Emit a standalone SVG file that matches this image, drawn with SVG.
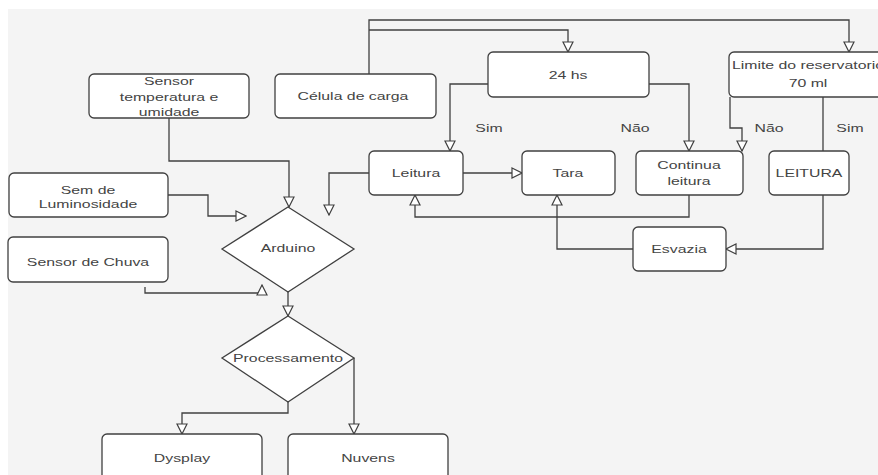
<svg xmlns="http://www.w3.org/2000/svg" width="878" height="475" viewBox="0 0 878 475">
<style>
.box{fill:#ffffff;stroke:#404040;stroke-width:1.3}
.ln{fill:none;stroke:#404040;stroke-width:1.3}
.t{font-family:"Liberation Sans",Arial,sans-serif;font-size:11px;fill:#444;text-anchor:middle}
</style>
<defs>
<marker id="ah" markerUnits="userSpaceOnUse" markerWidth="12" markerHeight="12" refX="10" refY="5" orient="auto" viewBox="-1 -1 12 12">
<path d="M0,0 L10,5 L0,10 Z" fill="#fff" stroke="#404040" stroke-width="1.2"/>
</marker>
</defs>
<rect x="0" y="0" width="878" height="475" fill="#ffffff"/>
<rect x="8" y="9" width="870" height="466" fill="#f4f4f4"/>

<g id="connectors">
<path class="ln" d="M169,118 V161 H289 V207" marker-end="url(#ah)"/>
<path class="ln" d="M168,195 H208 V216 H246" marker-end="url(#ah)"/>
<path class="ln" d="M145,287 V293 H262 V285" marker-end="url(#ah)"/>
<path class="ln" d="M288,292 V316" marker-end="url(#ah)"/>
<path class="ln" d="M288,402 V413 H182 V434" marker-end="url(#ah)"/>
<path class="ln" d="M354,358 V434" marker-end="url(#ah)"/>
<path class="ln" d="M369,74 V20 H849 V52" marker-end="url(#ah)"/>
<path class="ln" d="M369,30 H568 V52" marker-end="url(#ah)"/>
<path class="ln" d="M488,84 H450 V151" marker-end="url(#ah)"/>
<path class="ln" d="M649,84 H689 V151" marker-end="url(#ah)"/>
<path class="ln" d="M730,97 V128 H742 V151" marker-end="url(#ah)"/>
<path class="ln" d="M823,97 V151"/>
<path class="ln" d="M463,173 H522" marker-end="url(#ah)"/>
<path class="ln" d="M369,173 H329 V215" marker-end="url(#ah)"/>
<path class="ln" d="M689,195 V217 H415 V195" marker-end="url(#ah)"/>
<path class="ln" d="M633,249 H557 V195" marker-end="url(#ah)"/>
<path class="ln" d="M823,195 V249 H726" marker-end="url(#ah)"/>
<text class="t" transform="translate(489,132) scale(1.44,1)">Sim</text>
<text class="t" transform="translate(635,132) scale(1.44,1)">Não</text>
<text class="t" transform="translate(769,132) scale(1.44,1)">Não</text>
<text class="t" transform="translate(850,132) scale(1.44,1)">Sim</text>
</g>

<g id="sensor-temp">
<rect class="box" x="89" y="74" width="160" height="44" rx="5"/>
<text class="t" transform="translate(169,85) scale(1.44,1)">Sensor</text>
<text class="t" transform="translate(169,101) scale(1.44,1)">temperatura e</text>
<text class="t" transform="translate(169,116) scale(1.44,1)">umidade</text>
</g>
<g id="sem-luminosidade">
<rect class="box" x="9" y="173" width="159" height="44" rx="5"/>
<text class="t" transform="translate(88,194) scale(1.44,1)">Sem de</text>
<text class="t" transform="translate(88,208) scale(1.44,1)">Luminosidade</text>
</g>
<g id="sensor-chuva">
<rect class="box" x="8" y="237" width="160" height="45" rx="5"/>
<text class="t" transform="translate(88,266) scale(1.44,1)">Sensor de Chuva</text>
</g>
<g id="celula-carga">
<rect class="box" x="275" y="74" width="161" height="44" rx="5"/>
<text class="t" transform="translate(353,100) scale(1.44,1)">Célula de carga</text>
</g>
<g id="h24">
<rect class="box" x="488" y="52" width="161" height="45" rx="5"/>
<text class="t" transform="translate(568,79) scale(1.44,1)">24 hs</text>
</g>
<g id="limite">
<rect class="box" x="729" y="52" width="160" height="45" rx="5"/>
<text class="t" transform="translate(808,69) scale(1.44,1)">Limite do reservatorio</text>
<text class="t" transform="translate(808,87) scale(1.44,1)">70 ml</text>
</g>
<g id="leitura">
<rect class="box" x="369" y="151" width="94" height="44" rx="5"/>
<text class="t" transform="translate(416,177) scale(1.44,1)">Leitura</text>
</g>
<g id="tara">
<rect class="box" x="522" y="151" width="93" height="44" rx="5"/>
<text class="t" transform="translate(568,177) scale(1.44,1)">Tara</text>
</g>
<g id="continua-leitura">
<rect class="box" x="636" y="151" width="107" height="44" rx="5"/>
<text class="t" transform="translate(689,169) scale(1.44,1)">Continua</text>
<text class="t" transform="translate(689,185) scale(1.44,1)">leitura</text>
</g>
<g id="leitura2">
<rect class="box" x="769" y="151" width="80" height="44" rx="5"/>
<text class="t" transform="translate(809,177) scale(1.44,1)">LEITURA</text>
</g>
<g id="esvazia">
<rect class="box" x="633" y="227" width="93" height="44" rx="5"/>
<text class="t" transform="translate(679,253) scale(1.44,1)">Esvazia</text>
</g>
<g id="arduino">
<path class="box" d="M288,207 L354,249 L288,292 L222,249 Z"/>
<text class="t" transform="translate(288,252) scale(1.44,1)">Arduino</text>
</g>
<g id="processamento">
<path class="box" d="M288,316 L354,358 L288,402 L222,358 Z"/>
<text class="t" transform="translate(288,362) scale(1.44,1)">Processamento</text>
</g>
<g id="dysplay">
<rect class="box" x="102" y="434" width="160" height="46" rx="5"/>
<text class="t" transform="translate(182,462) scale(1.44,1)">Dysplay</text>
</g>
<g id="nuvens">
<rect class="box" x="288" y="434" width="160" height="46" rx="5"/>
<text class="t" transform="translate(368,462) scale(1.44,1)">Nuvens</text>
</g>
</svg>
